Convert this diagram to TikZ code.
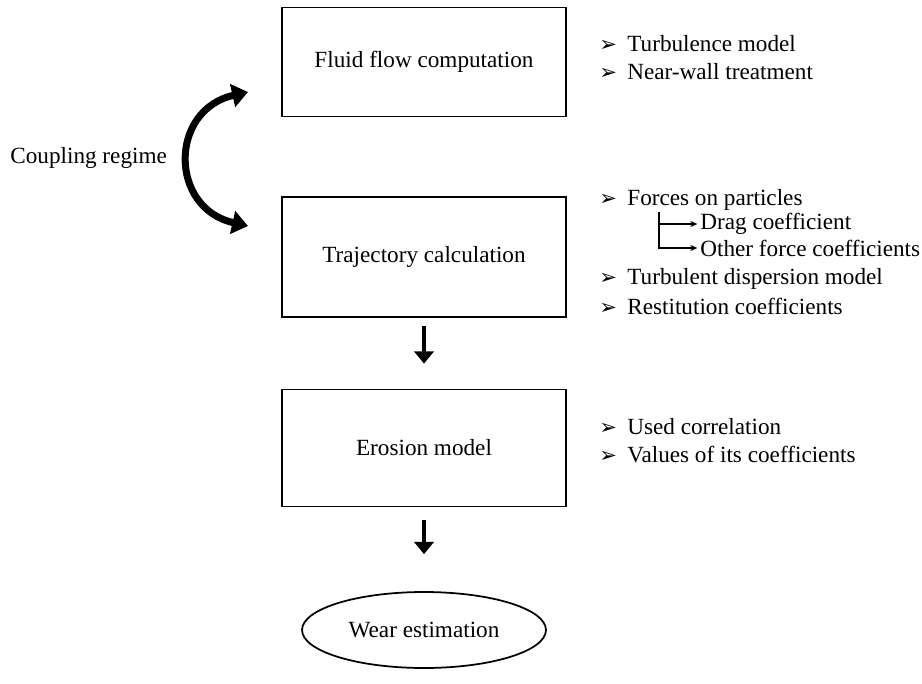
\documentclass[tikz,border=0pt]{standalone}
\usepackage{fontspec}
\setmainfont{Liberation Serif}
\newfontfamily\symfont{DejaVu Sans}
\usetikzlibrary{arrows.meta,shapes.geometric}
\newcommand{\pbul}{\makebox[0.56cm][l]{\symfont\large ➢}}
\tikzset{
  stage/.style={draw,line width=1pt,minimum width=5.68cm,align=center},
  item/.style={anchor=west,inner sep=0pt},
  fat/.style={line width=2.8pt,-{Triangle[width=11pt,length=7pt]}},
  twin/.style={line width=4pt,{Triangle[width=13pt,length=9pt]}-{Triangle[width=13pt,length=9pt]}},
  thin/.style={line width=0.7pt,-{Stealth[length=4pt,width=3.5pt]},shorten >=1.5pt}
}
\begin{document}
\begin{tikzpicture}[x=0.02cm,y=-0.02cm,font=\fontsize{13.2}{15}\selectfont]
  \useasboundingbox (0,0) rectangle (922,683);
  % stages
  \node[stage,minimum height=2.18cm] (flow) at (424,62) {Fluid flow computation};
  \node[stage,minimum height=2.4cm] (traj) at (424,257) {Trajectory calculation};
  \node[stage,minimum height=2.34cm] (eros) at (424,448) {Erosion model};
  \node[draw,line width=1pt,ellipse,minimum width=4.88cm,minimum height=1.52cm] (wear) at (424,630) {Wear estimation};
  \draw[fat,shorten <=0.16cm,shorten >=0.5cm] (traj.south) -- (eros.north);
  \draw[fat,shorten <=0.26cm,shorten >=0.74cm] (eros.south) -- (wear.north);
  % coupling
  \node[item] (coup) at (10,158) {Coupling regime};
  \coordinate (cupA) at (248,92);
  \coordinate (cupB) at (248,226);
  \draw[twin] (cupA) .. controls (169,110) and (169,208) .. (cupB);
  % notes
  \node[item] (n1) at (599,44) {\pbul Turbulence model};
  \node[item] (n2) at (599,72) {\pbul Near-wall treatment};
  \node[item] (n3) at (599,200) {\pbul Forces on particles};
  \node[item] (drag) at (700,224) {Drag coefficient};
  \node[item] (other) at (700,248) {Other force coefficients};
  \node[item] (n4) at (599,279) {\pbul Turbulent dispersion model};
  \node[item] (n5) at (599,306) {\pbul Restitution coefficients};
  \node[item] (n6) at (599,427) {\pbul Used correlation};
  \node[item] (n7) at (599,455) {\pbul Values of its coefficients};
  \coordinate (fork) at (659,212);
  \draw[thin] (fork) |- (drag.west);
  \draw[thin] (fork) |- (other.west);
\end{tikzpicture}
\end{document}
